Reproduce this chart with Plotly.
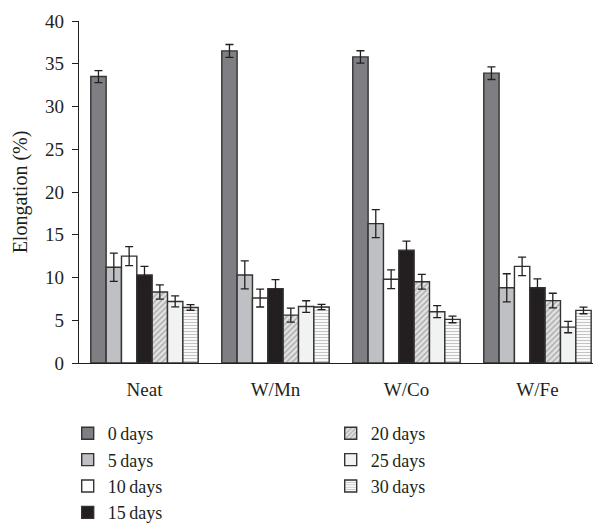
import plotly.graph_objects as go

categories = ["Neat", "W/Mn", "W/Co", "W/Fe"]
series_names = ["0 days", "5 days", "10 days", "15 days", "20 days", "25 days", "30 days"]
values = {
    "0 days":  [33.5, 36.5, 35.8, 33.9],
    "5 days":  [11.2, 10.3, 16.3, 8.8],
    "10 days": [12.5, 7.6, 9.8, 11.3],
    "15 days": [10.3, 8.7, 13.2, 8.8],
    "20 days": [8.3, 5.6, 9.5, 7.3],
    "25 days": [7.2, 6.6, 6.0, 4.2],
    "30 days": [6.5, 6.55, 5.1, 6.15],
}
errors = {
    "0 days":  [0.7, 0.75, 0.72, 0.74],
    "5 days":  [1.65, 1.64, 1.64, 1.64],
    "10 days": [1.1, 1.05, 1.09, 1.09],
    "15 days": [1.0, 1.05, 1.05, 1.05],
    "20 days": [0.84, 0.82, 0.86, 0.86],
    "25 days": [0.64, 0.68, 0.7, 0.66],
    "30 days": [0.33, 0.31, 0.39, 0.39],
}
y_ticks = [0, 5, 10, 15, 20, 25, 30, 35, 40]

styles = {
    "0 days":  dict(color="#7f7f83"),
    "5 days":  dict(color="#bfc0c3"),
    "10 days": dict(color="#ffffff"),
    "15 days": dict(color="#231f20"),
    "20 days": dict(color="#d9d9d9", pattern=dict(shape="/", fgcolor="#6d6d6d", bgcolor="#e2e2e2", size=4, solidity=0.35)),
    "25 days": dict(color="#f1f3f2"),
    "30 days": dict(color="#ffffff", pattern=dict(shape="-", fgcolor="#8a8a8a", bgcolor="#ffffff", size=3, solidity=0.4)),
}
legend_ranks = {"0 days": 1, "20 days": 2, "5 days": 3, "25 days": 4, "10 days": 5, "30 days": 6, "15 days": 7}

font_family = "Liberation Serif, DejaVu Serif, serif"

fig = go.Figure()
for name in series_names:
    mk = dict(styles[name])
    mk["line"] = dict(color="#333333", width=1.4)
    fig.add_trace(go.Bar(
        x=categories, y=values[name], name=name.replace(" ", "\u2009"),
        marker=mk,
        error_y=dict(type="data", array=errors[name], color="#231f20", thickness=1.3, width=4),
        legendrank=legend_ranks[name],
    ))

fig.update_layout(
    width=593, height=523,
    margin=dict(l=79, r=0, t=21, b=160, autoexpand=False),
    paper_bgcolor="white", plot_bgcolor="white",
    barmode="group", bargap=0.18, bargroupgap=0,
    font=dict(family=font_family, size=18, color="#231f20"),
    showlegend=True,
    legend=dict(
        orientation="h", x=-0.022, xanchor="left", y=-0.152, yanchor="top",
        entrywidth=218, entrywidthmode="pixels",
        font=dict(family=font_family, size=18, color="#231f20"),
        traceorder="normal", itemclick=False, itemdoubleclick=False,
    ),
    xaxis=dict(
        range=[-0.5, 3.424], showline=True, linecolor="#231f20", linewidth=1.2,
        ticks="", showgrid=False, tickfont=dict(size=19), ticklabelstandoff=9,
    ),
    yaxis=dict(
        range=[0, 40], tickvals=y_ticks, showline=True, linecolor="#231f20", linewidth=1.2,
        ticks="outside", ticklen=6, tickcolor="#231f20", showgrid=False, zeroline=False,
        title=dict(text="Elongation (%)", font=dict(size=20), standoff=12),
        tickfont=dict(size=19), ticklabelstandoff=4,
    ),
)

fig.write_html("out.html")
